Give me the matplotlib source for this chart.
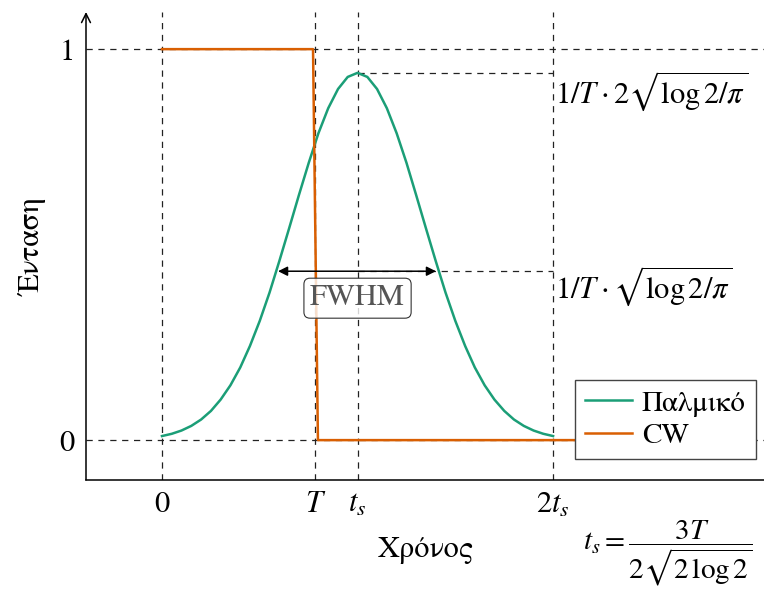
import matplotlib
matplotlib.use("Agg")
import matplotlib.pyplot as plt

plt.rcParams['font.family'] = ['STIXGeneral', 'DejaVu Serif']
plt.rcParams['mathtext.fontset'] = 'stix'

# ---- data (T = 1) ----
T = 1.0
ts = 1.274            # t_s = 3T / (2 sqrt(2 log 2))
peak = 0.939          # 1/T * 2 sqrt(log2/pi)
half_level = 0.432    # level of the FWHM arrow as drawn
fwhm_left, fwhm_right = 0.756, 1.785

pulse_t = [0.000, 0.064, 0.127, 0.191, 0.255, 0.319, 0.382, 0.446, 0.510, 0.573,
           0.637, 0.701, 0.764, 0.828, 0.892, 0.956, 1.019, 1.083, 1.147, 1.210,
           1.274, 1.338, 1.401, 1.465, 1.529, 1.593, 1.656, 1.720, 1.784, 1.847,
           1.911, 1.975, 2.038, 2.102, 2.166, 2.230, 2.293, 2.357, 2.421, 2.484,
           2.548]
pulse_I = [0.0104, 0.0162, 0.0245, 0.0364, 0.0527, 0.0747, 0.1036, 0.1403, 0.1859, 0.2408,
           0.3050, 0.3777, 0.4573, 0.5413, 0.6266, 0.7091, 0.7847, 0.8489, 0.8981, 0.9289,
           0.9394, 0.9289, 0.8981, 0.8489, 0.7847, 0.7091, 0.6266, 0.5413, 0.4573, 0.3777,
           0.3050, 0.2408, 0.1859, 0.1403, 0.1036, 0.0747, 0.0527, 0.0364, 0.0245, 0.0162,
           0.0104]

cw_t = [0.0, 0.984, 1.016, 3.2]
cw_I = [1.0, 1.0, 0.0, 0.0]

xticks = [0, T, ts, 2 * ts]
xticklabels = ['0', '$T$', '$t_s$', '$2t_s$']
yticks = [0, 1]
yticklabels = ['0', '1']

green = '#1b9e77'
orange = '#d95f02'
dash_col = '#222222'
FS = 22

fig = plt.figure(figsize=(7.64, 5.92), dpi=100)
ax = fig.add_axes([86 / 764, 112 / 592, 678 / 764, 468 / 592])
ax.set_xlim(-0.495, 3.922)
ax.set_ylim(-0.102, 1.095)

dash_kw = dict(color=dash_col, lw=0.9, dashes=(5, 4.5), zorder=1)
for xv in xticks:
    ax.axvline(xv, **dash_kw)
for yv in yticks:
    ax.axhline(yv, **dash_kw)
ax.plot([ts, 2 * ts], [peak, peak], **dash_kw)
ax.plot([ts, 2 * ts], [half_level, half_level], **dash_kw)

ax.plot(pulse_t, pulse_I, color=green, lw=1.8, zorder=3, label='Παλμικό',
        solid_joinstyle='round')
ax.plot(cw_t, cw_I, color=orange, lw=1.8, zorder=3, label='CW')

# FWHM arrow
ax.annotate('', xy=(fwhm_left, half_level), xytext=(fwhm_right, half_level),
            arrowprops=dict(arrowstyle='<|-|>', color='black', lw=1.1,
                            mutation_scale=14, shrinkA=0, shrinkB=0), zorder=4)
ax.text(ts, 0.363, 'FWHM', ha='center', va='center', fontsize=FS, color='#555555',
        zorder=5,
        bbox=dict(boxstyle='round,pad=0.2,rounding_size=0.2', fc=(1, 1, 1, 0.8),
                  ec='#333333', lw=0.8))

# side labels
ax.text(2 * ts + 0.01, 0.893, r'$1/T\cdot 2\sqrt{\log 2/\pi}$', ha='left', va='center',
        fontsize=FS, clip_on=False)
ax.text(2 * ts + 0.01, 0.394, r'$1/T\cdot \sqrt{\log 2/\pi}$', ha='left', va='center',
        fontsize=FS, clip_on=False)
fig.text(668 / 764, 1 - 553 / 592, r'$t_s = \dfrac{3T}{2\sqrt{2\,\log 2}}$',
         ha='center', va='center', fontsize=21)

# axes styling
ax.set_xticks(xticks)
ax.set_xticklabels(xticklabels, fontsize=FS)
ax.set_yticks(yticks)
ax.set_yticklabels(yticklabels, fontsize=FS)
ax.tick_params(length=0, pad=8)
for s in ['top', 'right', 'left']:
    ax.spines[s].set_visible(False)
ax.spines['bottom'].set_linewidth(1.1)
ax.annotate('', xy=(0, 1), xycoords='axes fraction', xytext=(0, 0),
            textcoords='axes fraction',
            arrowprops=dict(arrowstyle='->', color='black', lw=1.1,
                            mutation_scale=16, shrinkA=0, shrinkB=0))

ax.set_xlabel('Χρόνος', fontsize=FS, labelpad=12)
ax.set_ylabel('Ένταση', fontsize=FS, labelpad=10)

leg = ax.legend(loc='upper left', bbox_to_anchor=(0.721, 0.2137), borderaxespad=0,
                fontsize=21, frameon=True, fancybox=False, framealpha=1,
                edgecolor='#444444', handlelength=1.6, handletextpad=0.35,
                labelspacing=0.2, borderpad=0.35)
leg.get_frame().set_linewidth(1.0)
leg.set_zorder(6)

fig.savefig('out.png', dpi=100)
